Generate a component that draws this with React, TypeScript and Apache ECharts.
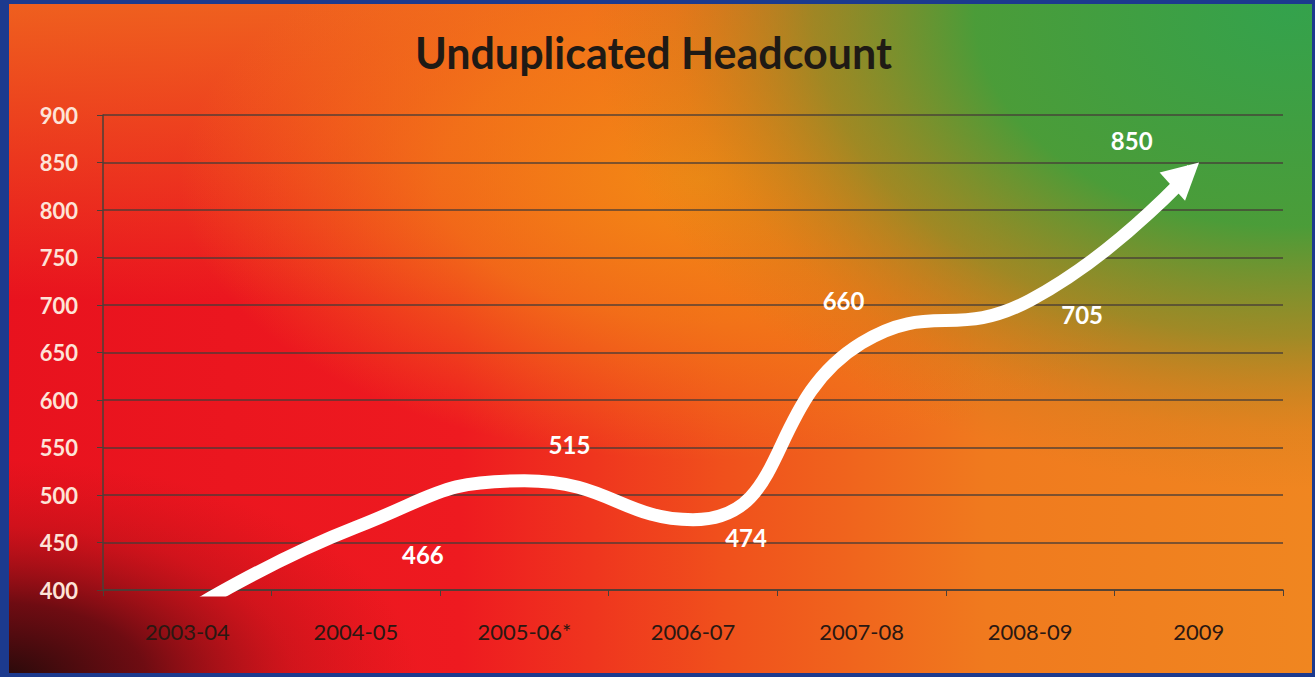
import React, { useEffect, useRef } from 'react';
import * as echarts from 'echarts';

const titleText = 'Unduplicated Headcount';
const categories = ['2003-04', '2004-05', '2005-06*', '2006-07', '2007-08', '2008-09', '2009'];
const headcount = [377, 466, 515, 474, 660, 705, 850];
const labelOffsets: [number, number][] = [[0, 0], [67, 27], [45, -36], [53, 18], [-18, -43], [52, 14], [-67, -22]];
const yMin = 400;
const yMax = 900;
const yStep = 50;

const W = 1315;
const H = 677;

function radialRect(x: number, y: number, w: number, h: number, stops: { offset: number; color: string }[]) {
  return {
    type: 'rect',
    silent: true,
    z: -10,
    shape: { x, y, width: w, height: h },
    style: { fill: new echarts.graphic.RadialGradient(0.5, 0.5, 0.5, stops, false) },
  };
}

export default function App() {
  const ref = useRef<HTMLDivElement>(null);
  useEffect(() => {
    const chart = echarts.init(ref.current!, null, { renderer: 'svg' });
    const last = headcount.length - 1;
    const lineData = headcount.map((v, i) =>
      i === last
        ? { value: v, symbol: 'triangle', symbolSize: [38, 36], symbolRotate: -48, symbolOffset: [-13, 12] }
        : { value: v }
    );
    const labelData = headcount.map((v, i) => ({
      value: v,
      label: { show: i > 0, offset: labelOffsets[i] },
    }));

    const background = [
      {
        type: 'rect',
        silent: true,
        z: -10,
        shape: { x: 0, y: 0, width: W, height: 300 },
        style: {
          fill: new echarts.graphic.LinearGradient(0, 0, 0, 1, [
            { offset: 0, color: 'rgba(240,110,30,0.85)' },
            { offset: 1, color: 'rgba(240,110,30,0)' },
          ]),
        },
      },
      radialRect(180, -100, 1040, 560, [
        { offset: 0, color: 'rgba(243,140,20,0.95)' },
        { offset: 0.5, color: 'rgba(243,130,22,0.7)' },
        { offset: 1, color: 'rgba(243,130,22,0)' },
      ]),
      radialRect(590, -470, 1400, 960, [
        { offset: 0, color: 'rgba(52,162,76,1)' },
        { offset: 0.45, color: 'rgba(66,158,58,0.95)' },
        { offset: 0.68, color: 'rgba(115,142,42,0.65)' },
        { offset: 0.88, color: 'rgba(170,125,30,0.18)' },
        { offset: 1, color: 'rgba(180,120,30,0)' },
      ]),
      radialRect(-420, 460, 840, 440, [
        { offset: 0, color: 'rgba(35,10,10,1)' },
        { offset: 0.35, color: 'rgba(80,10,15,0.8)' },
        { offset: 0.7, color: 'rgba(150,15,20,0.3)' },
        { offset: 1, color: 'rgba(180,15,20,0)' },
      ]),
      { type: 'rect', silent: true, z: 100, shape: { x: 0, y: 0, width: 9, height: H }, style: { fill: '#1c3a8e' } },
      { type: 'rect', silent: true, z: 100, shape: { x: 0, y: 0, width: W, height: 4 }, style: { fill: '#1c3a8e' } },
      { type: 'rect', silent: true, z: 100, shape: { x: W - 3, y: 0, width: 3, height: H }, style: { fill: '#1c3a8e' } },
      { type: 'rect', silent: true, z: 100, shape: { x: 0, y: H - 4, width: W, height: 4 }, style: { fill: '#1c3a8e' } },
    ];

    chart.setOption({
      animation: false,
      backgroundColor: new echarts.graphic.LinearGradient(0, 0, 1, 0, [
        { offset: 0, color: '#e8121e' },
        { offset: 0.35, color: '#ee1a20' },
        { offset: 0.55, color: '#f0501c' },
        { offset: 0.75, color: '#f07a1e' },
        { offset: 1, color: '#f08620' },
      ]),
      title: {
        text: titleText,
        left: 410,
        top: 26,
        textStyle: { fontFamily: 'Lato', fontWeight: 'bold', fontSize: 43, color: '#1f1a15' },
      },
      graphic: { elements: background },
      grid: { left: 103, right: 32, top: 115, bottom: 87, containLabel: false },
      xAxis: {
        type: 'category',
        data: categories,
        boundaryGap: true,
        axisLine: { show: true, lineStyle: { color: '#4a4038', width: 1.5 } },
        axisTick: { show: true, length: 6, interval: 0, lineStyle: { color: '#4a4038' } },
        axisLabel: { color: '#2a1812', fontFamily: 'Lato', fontSize: 22, margin: 30, interval: 0 },
        splitLine: { show: false },
      },
      yAxis: {
        type: 'value',
        min: yMin,
        max: yMax,
        interval: yStep,
        axisLine: { show: true, lineStyle: { color: '#4a4038', width: 1.5 } },
        axisTick: { show: true, length: 6, lineStyle: { color: '#4a4038' } },
        axisLabel: { color: '#fde4d8', fontFamily: 'Lato', fontWeight: 'bold', fontSize: 22, margin: 25 },
        splitLine: { show: true, lineStyle: { color: 'rgba(70,60,55,0.9)', width: 1.5 } },
      },
      series: [
        {
          type: 'line',
          data: lineData,
          smooth: 0.5,
          symbol: 'none',
          clip: true,
          lineStyle: { color: '#ffffff', width: 13, cap: 'butt' },
          itemStyle: { color: '#ffffff' },
          z: 3,
        },
        {
          type: 'line',
          data: labelData,
          symbol: 'circle',
          symbolSize: 1,
          silent: true,
          clip: false,
          lineStyle: { opacity: 0, width: 0 },
          itemStyle: { color: 'rgba(0,0,0,0)' },
          label: {
            show: true,
            position: 'inside',
            color: '#ffffff',
            fontFamily: 'Lato',
            fontWeight: 'bold',
            fontSize: 24,
          },
          z: 4,
        },
      ],
    });

    // Hide the butt end of the stroke under the arrowhead so the tip stays sharp.
    const tip = chart.convertToPixel({ xAxisIndex: 0, yAxisIndex: 0 }, [categories[last], headcount[last]]) as number[];
    if (tip && isFinite(tip[0])) {
      const cut = (tip[0] - 11) / W;
      chart.setOption({
        series: [
          {
            lineStyle: {
              color: new echarts.graphic.LinearGradient(0, 0, W, 0, [
                { offset: 0, color: '#ffffff' },
                { offset: cut, color: '#ffffff' },
                { offset: Math.min(1, cut + 0.0005), color: 'rgba(255,255,255,0)' },
                { offset: 1, color: 'rgba(255,255,255,0)' },
              ], true),
            },
          },
        ],
      });
    }
    return () => chart.dispose();
  }, []);
  return <div ref={ref} style={{ position: 'absolute', left: 0, top: 0, width: W, height: H }} />;
}
